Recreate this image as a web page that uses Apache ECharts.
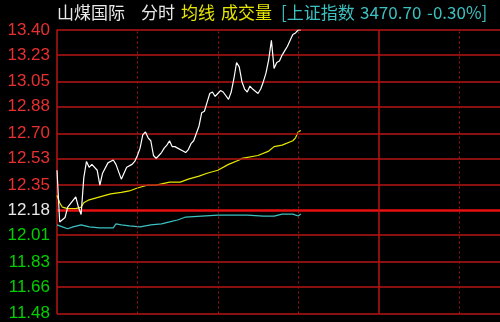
<!DOCTYPE html>
<html><head><meta charset="utf-8">
<script src="https://cdn.jsdelivr.net/npm/echarts@6/dist/echarts.min.js"></script>
<style>html,body{margin:0;padding:0;background:#000;}#c{width:500px;height:322px;}</style>
</head><body><div id="c"></div>
<script>
// ---- data ----
const tickVals = [13.40, 13.23, 13.05, 12.88, 12.70, 12.53, 12.35, 12.18, 12.01, 11.83, 11.66, 11.48];
const prevClose = 12.18;
const timeGridMinutes = [30, 60, 90, 150, 180, 210];
const middayMinute = 120;
const visibleMinutes = 165.3; // the picture is cropped partway into the trading day

const priceMin = [0,1,3,4,7,8,9,10,11,12,13,15,16,17,19,21,22,24,26,28,29,30,31,32,33,34,35,36,37,38,39,40,41,42,43,44,45,47,48,49,50,51,53,54,55,56,57,58,59,60,61,62,64,65,66,67,68,69,70,71,72,73,75,76,77,78,79,80,81,82,83,84,85,86,87,88,89,90,91];
const price    = [12.45,12.10,12.13,12.20,12.27,12.20,12.15,12.40,12.51,12.47,12.49,12.45,12.35,12.43,12.50,12.52,12.49,12.39,12.47,12.49,12.51,12.55,12.60,12.69,12.71,12.67,12.65,12.55,12.53,12.55,12.57,12.60,12.62,12.65,12.61,12.61,12.60,12.58,12.57,12.59,12.63,12.65,12.75,12.84,12.85,12.91,12.97,12.98,12.95,12.97,12.99,12.98,12.93,12.98,13.07,13.18,13.15,13.05,13.00,12.98,13.02,13.00,12.97,13.00,13.05,13.11,13.20,13.33,13.14,13.18,13.19,13.23,13.26,13.29,13.33,13.37,13.38,13.40,13.40];

const avgMin   = [0,1,2,4,5,7,9,10,12,16,20,24,27,30,34,37,42,46,49,53,56,60,64,68,69,75,79,81,84,88,89,90,91];
const avgPrice = [12.28,12.23,12.20,12.19,12.19,12.19,12.20,12.23,12.25,12.27,12.29,12.30,12.31,12.33,12.35,12.35,12.37,12.37,12.39,12.41,12.43,12.45,12.49,12.52,12.53,12.55,12.58,12.61,12.62,12.65,12.67,12.71,12.72];

const idxMin = [0,2,4,6,9,12,16,21,22,24,27,31,35,39,42,45,48,54,60,67,71,77,81,84,88,90,91];
const idxVal = [3452.6,3448.8,3445.0,3448.8,3452.6,3448.8,3446.9,3446.9,3454.5,3452.6,3450.7,3448.8,3452.6,3454.5,3458.3,3462.1,3467.8,3469.7,3471.6,3471.6,3471.6,3469.7,3469.7,3473.5,3473.5,3469.7,3473.5];
const idxPrevClose = 3481.14;

const titleParts = [
  {text: '山煤国际', color: '#e8e8e8', x: 57},
  {text: '分时', color: '#e8e8e8', x: 141},
  {text: '均线', color: '#e6e600', x: 181},
  {text: '成交量', color: '#e6e600', x: 221},
  {text: '[上证指数', color: '#3cc0c0', x: 281},
  {text: '3470.70', color: '#3cc0c0', x: 360},
  {text: '-0.30%]', color: '#3cc0c0', x: 427}
];

// ---- chart ----
const chart = echarts.init(document.getElementById('c'));
const yMin = tickVals[tickVals.length - 1], yMax = tickVals[0];
const lineRed = '#b81414';

chart.setOption({
  backgroundColor: '#000000',
  animation: false,
  title: titleParts.map(p => ({
    text: p.text, left: p.x, top: 4, padding: 0,
    textStyle: {color: p.color, fontSize: 17, fontWeight: 'normal', fontFamily: 'Noto Sans CJK SC'}
  })),
  grid: {left: 57, top: 30, right: 0, height: 288, containLabel: false},
  xAxis: {
    type: 'value', min: 0, max: visibleMinutes,
    axisLine: {show: false}, axisTick: {show: false}, axisLabel: {show: false},
    splitLine: {show: false}
  },
  yAxis: [{
    type: 'value', min: yMin, max: yMax,
    axisLine: {show: true, lineStyle: {color: lineRed, width: 1.5}},
    axisTick: {show: false, customValues: tickVals},
    splitLine: {show: false},
    axisLabel: {
      customValues: tickVals, margin: 7,
      fontFamily: 'Liberation Sans', fontSize: 17,
      formatter: v => Number(v).toFixed(2),
      color: v => (Math.abs(v - prevClose) < 1e-6 ? '#e8e8e8' : (v > prevClose ? '#e83030' : '#00d000'))
    }
  }, {
    type: 'value', show: false,
    min: idxPrevClose * yMin / prevClose, max: idxPrevClose * yMax / prevClose,
    splitLine: {show: false}
  }],
  series: [{
    type: 'line', name: 'grid', data: [], silent: true,
    markLine: {
      silent: true, symbol: 'none', animation: false, label: {show: false},
      data: tickVals.map(v => ({
        yAxis: v,
        lineStyle: Math.abs(v - prevClose) < 1e-6 ? {color: '#e81010', width: 2.5, type: 'solid'} : {color: lineRed, width: 1.6, type: 'solid'}
      })).concat(timeGridMinutes.map(m => ({
        xAxis: m, lineStyle: {color: '#a81010', width: 1, type: [2, 3]}
      }))).concat([{xAxis: middayMinute, lineStyle: {color: lineRed, width: 1.5, type: 'solid'}}])
    }
  }, {
    type: 'line', name: '上证指数', yAxisIndex: 1, showSymbol: false,
    data: idxMin.map((m, i) => [m, idxVal[i]]),
    lineStyle: {color: '#3cc0c0', width: 1.2}, z: 3
  }, {
    type: 'line', name: '均线', showSymbol: false,
    data: avgMin.map((m, i) => [m, avgPrice[i]]),
    lineStyle: {color: '#e8e800', width: 1.2}, z: 4
  }, {
    type: 'line', name: '价格', showSymbol: false,
    data: priceMin.map((m, i) => [m, price[i]]),
    lineStyle: {color: '#ffffff', width: 1.2}, z: 5
  }]
});
</script></body></html>
